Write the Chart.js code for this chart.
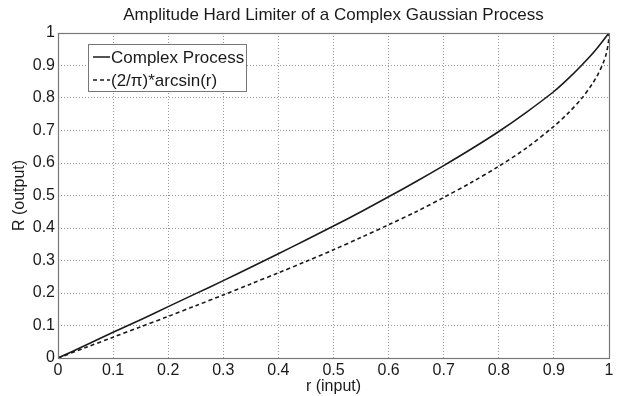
<!DOCTYPE html>
<html>
<head>
<meta charset="utf-8">
<script src="https://cdn.jsdelivr.net/npm/chart.js@4.4.0/dist/chart.umd.min.js"></script>
<style>
  html, body { margin: 0; padding: 0; background: #fff; }
  #wrap { width: 617px; height: 396px; }
</style>
</head>
<body>
<div id="wrap"><canvas id="myChart" width="617" height="396"></canvas></div>
<script>
// values
const complexR = [0, 0.05, 0.1, 0.15, 0.2, 0.25, 0.3, 0.35, 0.4, 0.45, 0.5, 0.55, 0.6, 0.65, 0.7, 0.75, 0.8, 0.85, 0.9, 0.925, 0.95, 0.975, 1];
const complexOut = [0, 0.039, 0.079, 0.118, 0.158, 0.198, 0.238, 0.279, 0.321, 0.363, 0.406, 0.45, 0.496, 0.543, 0.592, 0.643, 0.697, 0.756, 0.82, 0.858, 0.9, 0.946, 1];
const arcsinR = [0, 0.05, 0.1, 0.15, 0.2, 0.25, 0.3, 0.35, 0.4, 0.45, 0.5, 0.55, 0.6, 0.65, 0.7, 0.75, 0.8, 0.85, 0.9, 0.925, 0.95, 0.97, 0.98, 0.99, 0.995, 0.999, 1];
const arcsinOut = [0, 0.032, 0.064, 0.096, 0.128, 0.161, 0.194, 0.228, 0.262, 0.297, 0.333, 0.371, 0.41, 0.45, 0.494, 0.54, 0.59, 0.646, 0.713, 0.752, 0.798, 0.844, 0.873, 0.91, 0.936, 0.972, 1];
const tickValues = [0, 0.1, 0.2, 0.3, 0.4, 0.5, 0.6, 0.7, 0.8, 0.9, 1];

const seriesLabels = ['Complex Process', '(2/\u03c0)*arcsin(r)'];
const fontFamily = '"Liberation Sans", Arial, Helvetica, sans-serif';
const inkColor = '#1a1a1a';

function pairs(xs, ys) {
    return xs.map(function(x, i) { return { x: x, y: ys[i] }; });
}

function tickText(v) {
    return String(Math.round(v * 10) / 10);
}

// title centred over the axes, box round the plot, matlab style legend
const matlabBits = {
    id: 'matlabBits',
    afterDraw: function(chart) {
        const ctx = chart.ctx;
        const a = chart.chartArea;
        ctx.save();
        ctx.strokeStyle = '#777';
        ctx.lineWidth = 1.2;
        ctx.strokeRect(Math.round(a.left) + 0.5, Math.round(a.top) + 0.5, Math.round(a.right - a.left), Math.round(a.bottom - a.top));

        ctx.fillStyle = inkColor;
        ctx.font = '17px ' + fontFamily;
        ctx.textAlign = 'center';
        ctx.textBaseline = 'middle';
        ctx.fillText('Amplitude Hard Limiter of a Complex Gaussian Process', (a.left + a.right) / 2, 15);

        // legend
        const bx = 88.5, by = 44.5, bw = 158, bh = 47;
        ctx.fillStyle = '#fff';
        ctx.fillRect(bx, by, bw, bh);
        ctx.lineWidth = 1;
        ctx.strokeStyle = '#777';
        ctx.strokeRect(bx, by, bw, bh);
        ctx.font = '17px ' + fontFamily;
        ctx.textAlign = 'left';
        chart.data.datasets.forEach(function(ds, i) {
            const yy = 57 + i * 23;
            ctx.strokeStyle = ds.borderColor;
            ctx.lineWidth = 1.5;
            ctx.setLineDash(ds.borderDash || []);
            ctx.beginPath();
            ctx.moveTo(93, yy);
            ctx.lineTo(110, yy);
            ctx.stroke();
            ctx.setLineDash([]);
            ctx.fillStyle = inkColor;
            ctx.fillText(ds.label, 111, yy + 1);
        });
        ctx.restore();
    }
};

new Chart(document.getElementById('myChart'), {
    type: 'scatter',
    data: {
        datasets: [{
            label: seriesLabels[0],
            data: pairs(complexR, complexOut),
            showLine: true,
            borderColor: inkColor,
            borderWidth: 1.6,
            pointRadius: 0,
            tension: 0.3,
            fill: false
        }, {
            label: seriesLabels[1],
            data: pairs(arcsinR, arcsinOut),
            showLine: true,
            borderColor: inkColor,
            borderWidth: 1.6,
            borderDash: [4, 3],
            pointRadius: 0,
            tension: 0.3,
            fill: false
        }]
    },
    options: {
        responsive: false,
        animation: false,
        layout: { padding: { left: 0, right: 8, top: 33, bottom: 0 } },
        plugins: {
            legend: { display: false },
            title: { display: false },
            tooltip: { enabled: false }
        },
        scales: {
            x: {
                type: 'linear',
                min: 0,
                max: 1,
                afterBuildTicks: function(scale) {
                    scale.ticks = tickValues.map(function(v) { return { value: v }; });
                },
                afterFit: function(scale) { scale.height = 38; },
                grid: { color: '#999', lineWidth: 1, drawTicks: false },
                border: { display: false, dash: [1, 2] },
                ticks: {
                    padding: 3,
                    color: inkColor,
                    font: { family: fontFamily, size: 16 },
                    maxRotation: 0,
                    autoSkip: false,
                    callback: tickText
                },
                title: {
                    display: true,
                    text: 'r (input)',
                    color: inkColor,
                    font: { family: fontFamily, size: 16 },
                    padding: { top: 0, bottom: 0 }
                }
            },
            y: {
                type: 'linear',
                min: 0,
                max: 1,
                afterBuildTicks: function(scale) {
                    scale.ticks = tickValues.map(function(v) { return { value: v }; });
                },
                afterFit: function(scale) { scale.width = 58; },
                grid: { color: '#999', lineWidth: 1, drawTicks: false },
                border: { display: false, dash: [1, 2] },
                ticks: {
                    padding: 3,
                    color: inkColor,
                    font: { family: fontFamily, size: 16 },
                    autoSkip: false,
                    callback: tickText
                },
                title: {
                    display: true,
                    text: 'R (output)',
                    color: inkColor,
                    font: { family: fontFamily, size: 16 },
                    padding: { top: 10, bottom: 0 }
                }
            }
        }
    },
    plugins: [matlabBits]
});
</script>
</body>
</html>
